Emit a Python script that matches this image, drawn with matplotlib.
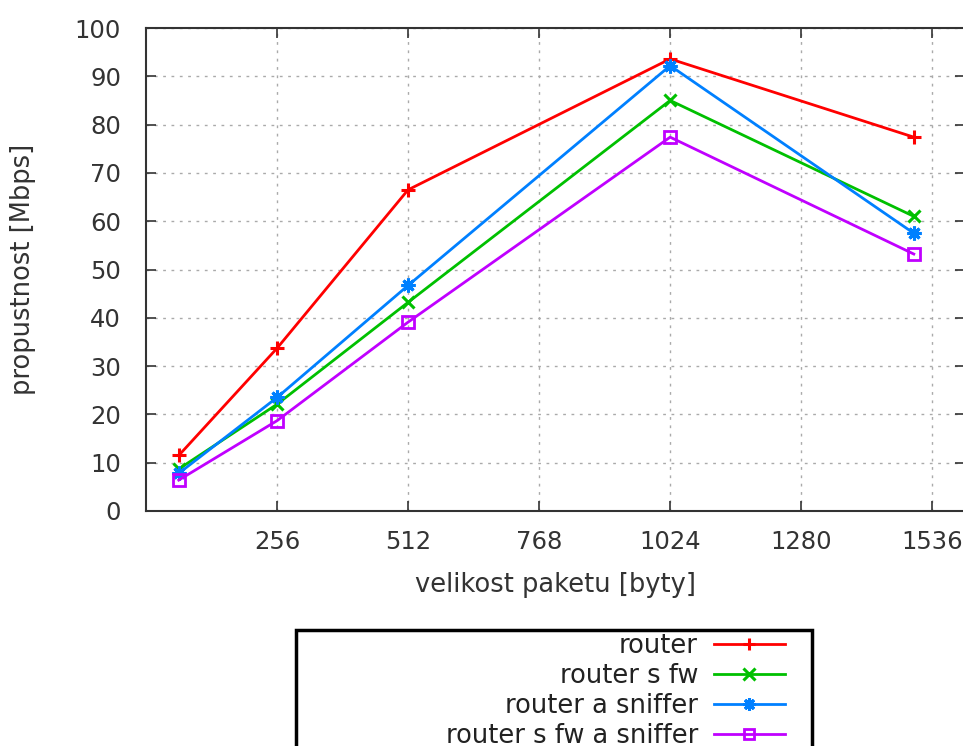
import matplotlib
matplotlib.use("Agg")
import matplotlib.pyplot as plt
from matplotlib.patches import Rectangle

packet_sizes = [64, 256, 512, 1024, 1500]
router = [11.5, 33.7, 66.5, 93.6, 77.4]
router_fw = [8.7, 22.1, 43.2, 85.0, 61.0]
router_sniffer = [7.8, 23.5, 46.7, 92.2, 57.5]
router_fw_sniffer = [6.4, 18.7, 39.1, 77.4, 53.2]

labels = ["router", "router s fw", "router a sniffer", "router s fw a sniffer"]
colors = ["#ff0000", "#00c000", "#0080ff", "#c000ff"]
markers = ["+", "x", (8, 2, 0), "s"]
xticks = [256, 512, 768, 1024, 1280, 1536]
yticks = list(range(0, 101, 10))

plt.rcParams['font.family'] = ['DejaVu Sans']
fig = plt.figure(figsize=(9.63, 7.46), dpi=100)
W, H = 963, 746
left, right, top, bottom = 146, 965, 28, 511
ax = fig.add_axes([left / W, 1 - bottom / H, (right - left) / W, (bottom - top) / H])

series = [router, router_fw, router_sniffer, router_fw_sniffer]
for vals, lab, c, m in zip(series, labels, colors, markers):
    if m == "s":
        kw = dict(markersize=8, markeredgewidth=2, markerfacecolor="none")
    elif m == "x":
        kw = dict(markersize=9, markeredgewidth=2.2)
    else:
        kw = dict(markersize=10, markeredgewidth=2.2)
    ax.plot(packet_sizes, vals, color=c, marker=m, linewidth=2, label=lab, **kw)

ax.set_xlim(0, 1600)
ax.set_ylim(0, 100)
ax.set_xticks(xticks)
ax.set_yticks(yticks)
ax.tick_params(direction="in", top=True, right=True, length=7, width=1.2,
               labelsize=17.5, colors="#333333", labelcolor="#333333")
ax.tick_params(axis="y", pad=18)
ax.tick_params(axis="x", pad=14)
ax.grid(True, color="#aaaaaa", linestyle=(0, (2, 4)), linewidth=1)
for s in ax.spines.values():
    s.set_linewidth(1.5)
    s.set_color("#333333")
ax.set_xlabel("velikost paketu [byty]", fontsize=18.5, color="#333333", labelpad=13)
ax.set_ylabel("propustnost [Mbps]", fontsize=18.5, color="#333333", labelpad=28)

leg = fig.legend(loc="upper right", bbox_to_anchor=(806 / W, 1 - 612 / H),
                 frameon=False, markerfirst=False, fontsize=18.5, handlelength=2.8,
                 labelspacing=0.16, handletextpad=0.6, borderpad=0.3, markerscale=0.9)
for t in leg.get_texts():
    t.set_color("#222222")
fig.patches.append(Rectangle((296 / W, -0.05), (812 - 296) / W, 0.05 + (1 - 630 / H),
                             transform=fig.transFigure, fill=False,
                             edgecolor="black", linewidth=2.5))

fig.savefig("out.png", dpi=100)
